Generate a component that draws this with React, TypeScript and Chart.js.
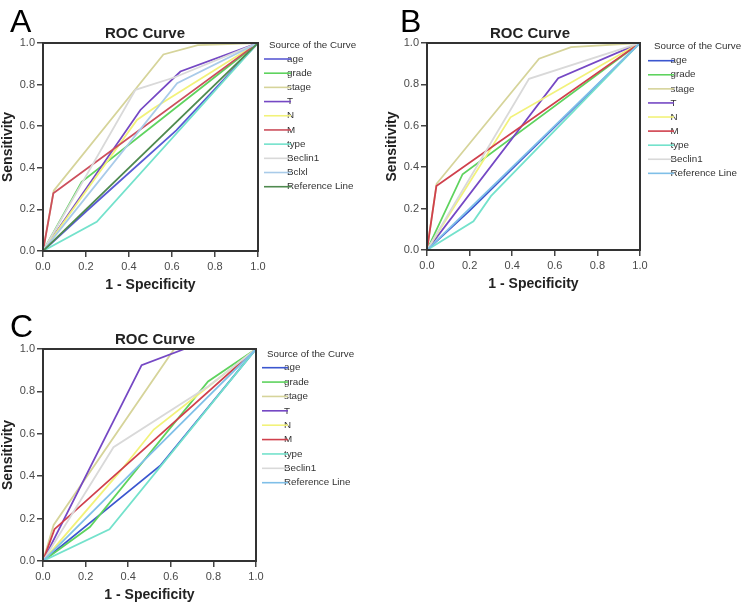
import React, { useEffect, useRef } from 'react';
import { Chart, registerables } from 'chart.js';
Chart.register(...registerables);

const FONT = "'Liberation Sans', Arial, Helvetica, sans-serif";
Chart.defaults.font.family = FONT;

// ---------- data ----------
const tickValues = [0, 0.2, 0.4, 0.6, 0.8, 1.0];
const legendTitle = 'Source of the Curve';
const seriesA = ['age', 'grade', 'stage', 'T', 'N', 'M', 'type', 'Beclin1', 'Bclxl', 'Reference Line'];
const seriesBC = ['age', 'grade', 'stage', 'T', 'N', 'M', 'type', 'Beclin1', 'Reference Line'];
const colorsA = ['#5a5ad4', '#5ed35e', '#d6d49a', '#7548c4', '#f2f27a', '#cc4f5c', '#74e2cc', '#d9d9d9', '#a9cbe9', '#4f8a4f'];
const colorsBC = ['#3b56cf', '#5ed35e', '#d6d49a', '#7548c4', '#f2f27a', '#d0404c', '#74e2cc', '#d9d9d9', '#7fbfe8'];

// panel A: [1 - specificity, sensitivity]
const aAge = [[0, 0], [0.2, 0.19], [0.62, 0.58], [1, 1]];
const aGrade = [[0, 0], [0.18, 0.333], [1, 1]];
const aStage = [[0, 0], [0.05, 0.29], [0.56, 0.945], [0.72, 0.99], [1, 1]];
const aT = [[0, 0], [0.453, 0.678], [0.639, 0.863], [1, 1]];
const aN = [[0, 0], [0.437, 0.63], [0.52, 0.69], [1, 1]];
const aM = [[0, 0], [0.048, 0.277], [1, 1]];
const aType = [[0, 0], [0.25, 0.14], [1, 1]];
const aBeclin1 = [[0, 0], [0.43, 0.775], [0.61, 0.834], [1, 1]];
const aBclxl = [[0, 0], [0.624, 0.807], [1, 1]];
const aRef = [[0, 0], [1, 1]];

// panel B
const bAge = [[0, 0], [0.2, 0.19], [1, 1]];
const bGrade = [[0, 0], [0.167, 0.366], [1, 1]];
const bStage = [[0, 0], [0.045, 0.32], [0.526, 0.924], [0.676, 0.98], [1, 1]];
const bT = [[0, 0], [0.616, 0.83], [1, 1]];
const bN = [[0, 0], [0.392, 0.641], [1, 1]];
const bM = [[0, 0], [0.044, 0.309], [1, 1]];
const bType = [[0, 0], [0.218, 0.139], [0.3, 0.26], [1, 1]];
const bBeclin1 = [[0, 0], [0.479, 0.827], [1, 1]];
const bRef = [[0, 0], [1, 1]];

// panel C
const cAge = [[0, 0], [0.22, 0.18], [0.553, 0.452], [1, 1]];
const cGrade = [[0, 0], [0.22, 0.16], [0.775, 0.847], [1, 1]];
const cStage = [[0, 0], [0.05, 0.17], [0.616, 1], [1, 1]];
const cT = [[0, 0], [0.463, 0.924], [0.664, 1], [1, 1]];
const cN = [[0, 0], [0.36, 0.42], [0.52, 0.62], [1, 1]];
const cM = [[0, 0], [0.054, 0.15], [1, 1]];
const cType = [[0, 0], [0.312, 0.15], [1, 1]];
const cBeclin1 = [[0, 0], [0.331, 0.537], [0.775, 0.823], [1, 1]];
const cRef = [[0, 0], [1, 1]];

// ---------- layout ----------
type PanelCfg = {
  letter: string;
  left: number; top: number; width: number; height: number;
  area: { l: number; t: number; r: number; b: number };
  letterPos: [number, number];
  titlePos: [number, number];
  legend: { headerX: number; headerY: number; firstY: number; step: number; x1: number; x2: number; textX: number };
  yTitlePad: number; xTitlePad: number;
  names: string[]; colors: string[]; curves: number[][][];
};

const panels: PanelCfg[] = [
  {
    letter: 'A', left: 0, top: 0, width: 370, height: 300,
    area: { l: 43, t: 43, r: 258, b: 251 },
    letterPos: [10, 31.5], titlePos: [145, 37.5],
    legend: { headerX: 269, headerY: 45, firstY: 59, step: 14.19, x1: 264, x2: 291, textX: 287 },
    yTitlePad: 0, xTitlePad: 6.6,
    names: seriesA, colors: colorsA,
    curves: [aAge, aGrade, aStage, aT, aN, aM, aType, aBeclin1, aBclxl, aRef],
  },
  {
    letter: 'B', left: 370, top: 0, width: 372, height: 300,
    area: { l: 57, t: 43, r: 270, b: 250 },
    letterPos: [30, 31.5], titlePos: [160, 38],
    legend: { headerX: 284, headerY: 46.7, firstY: 60.7, step: 14.08, x1: 278, x2: 304, textX: 300.5 },
    yTitlePad: 14, xTitlePad: 7.6,
    names: seriesBC, colors: colorsBC,
    curves: [bAge, bGrade, bStage, bT, bN, bM, bType, bBeclin1, bRef],
  },
  {
    letter: 'C', left: 0, top: 300, width: 370, height: 305,
    area: { l: 43, t: 49, r: 256, b: 261 },
    letterPos: [10, 37], titlePos: [155, 44.3],
    legend: { headerX: 267, headerY: 54, firstY: 67.7, step: 14.375, x1: 262, x2: 288, textX: 284 },
    yTitlePad: 0, xTitlePad: 1.6,
    names: seriesBC, colors: colorsBC,
    curves: [cAge, cGrade, cStage, cT, cN, cM, cType, cBeclin1, cRef],
  },
];

function Panel({ cfg }: { cfg: PanelCfg }) {
  const ref = useRef<HTMLCanvasElement | null>(null);
  useEffect(() => {
    if (!ref.current) return;
    const n = cfg.names.length;
    const decor = {
      id: 'decor',
      afterDatasetsDraw(chart: any) {
        const { ctx, chartArea: a } = chart;
        ctx.save();
        ctx.strokeStyle = '#333';
        ctx.lineWidth = 2;
        ctx.strokeRect(a.left, a.top, a.right - a.left, a.bottom - a.top);
        ctx.restore();
      },
      afterDraw(chart: any) {
        const ctx = chart.ctx as CanvasRenderingContext2D;
        ctx.save();
        ctx.fillStyle = '#000';
        ctx.textAlign = 'left';
        ctx.textBaseline = 'alphabetic';
        ctx.font = `32px ${FONT}`;
        ctx.fillText(cfg.letter, cfg.letterPos[0], cfg.letterPos[1]);
        ctx.fillStyle = '#222';
        ctx.textAlign = 'center';
        ctx.font = `bold 15px ${FONT}`;
        ctx.fillText('ROC Curve', cfg.titlePos[0], cfg.titlePos[1]);
        const L = cfg.legend;
        ctx.textAlign = 'left';
        ctx.textBaseline = 'middle';
        ctx.font = `9.8px ${FONT}`;
        ctx.fillStyle = '#333';
        ctx.fillText(legendTitle, L.headerX, L.headerY);
        cfg.names.forEach((name, i) => {
          const y = L.firstY + i * L.step;
          ctx.fillStyle = '#333';
          ctx.fillText(name, L.textX, y);
          ctx.strokeStyle = cfg.colors[i];
          ctx.lineWidth = 1.6;
          ctx.beginPath();
          ctx.moveTo(L.x1, y);
          ctx.lineTo(L.x2, y);
          ctx.stroke();
        });
        ctx.restore();
      },
    };
    const tickFmt = (v: any) => Number(v).toFixed(1);
    const chart = new Chart(ref.current, {
      type: 'line',
      data: {
        datasets: cfg.curves.map((pts, i) => ({
          label: cfg.names[i],
          data: pts.map(([x, y]) => ({ x, y })),
          borderColor: cfg.colors[i],
          backgroundColor: cfg.colors[i],
          borderWidth: 1.8,
          pointRadius: 0,
          tension: 0,
          fill: false,
          order: n - i,
        })),
      },
      options: {
        responsive: false,
        animation: false,
        events: [],
        layout: { padding: { left: 0, top: cfg.area.t, right: cfg.width - cfg.area.r, bottom: 0 } },
        plugins: { legend: { display: false }, title: { display: false }, tooltip: { enabled: false } },
        scales: {
          x: {
            type: 'linear', min: 0, max: 1,
            afterBuildTicks: (s: any) => { s.ticks = tickValues.map((v) => ({ value: v })); },
            afterFit: (s: any) => { s.height = cfg.height - cfg.area.b; },
            ticks: { callback: tickFmt, font: { size: 11 }, color: '#4a4a4a', padding: 3, maxRotation: 0, autoSkip: false },
            grid: { drawOnChartArea: false, drawTicks: true, tickLength: 6, color: '#444', lineWidth: 1.5 },
            border: { display: true, color: '#333', width: 2 },
            title: { display: true, text: '1 - Specificity', font: { size: 14, weight: 'bold' }, color: '#222', padding: { top: 0, bottom: cfg.xTitlePad } },
          },
          y: {
            type: 'linear', min: 0, max: 1,
            afterBuildTicks: (s: any) => { s.ticks = tickValues.map((v) => ({ value: v })); },
            afterFit: (s: any) => { s.width = cfg.area.l; },
            ticks: { callback: tickFmt, font: { size: 11 }, color: '#4a4a4a', padding: 2, autoSkip: false },
            grid: { drawOnChartArea: false, drawTicks: true, tickLength: 6, color: '#444', lineWidth: 1.5 },
            border: { display: true, color: '#333', width: 2 },
            title: { display: true, text: 'Sensitivity', font: { size: 14, weight: 'bold' }, color: '#222', padding: { top: cfg.yTitlePad, bottom: 0 } },
          },
        },
      } as any,
      plugins: [decor],
    });
    return () => chart.destroy();
  }, [cfg]);
  return (
    <canvas
      ref={ref}
      width={cfg.width}
      height={cfg.height}
      style={{ position: 'absolute', left: cfg.left, top: cfg.top, width: cfg.width, height: cfg.height }}
    />
  );
}

export default function App() {
  return (
    <div style={{ position: 'absolute', left: 0, top: 0, width: 742, height: 605, background: '#fff' }}>
      {panels.map((p) => (
        <Panel key={p.letter} cfg={p} />
      ))}
    </div>
  );
}
